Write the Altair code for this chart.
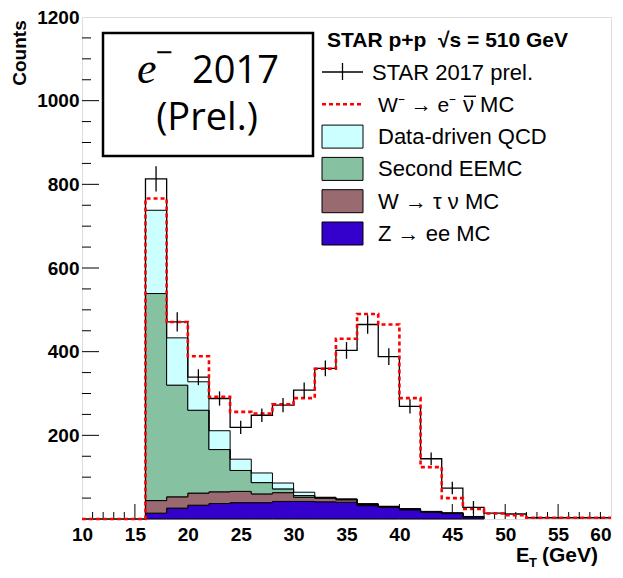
import altair as alt
import pandas as pd

# ---------------- data ----------------
bin_lo = [16, 18, 20, 22, 24, 26, 28, 30, 32, 34, 36, 38, 40, 42, 44, 46]
bin_end = 48
data_counts = [813, 471, 339, 288, 219, 248, 272, 308, 360, 403, 465, 388, 269, 144, 74, 28]
data_err = [30, 23, 19, 17, 16, 16, 17, 18, 19, 20, 22, 20, 17, 15, 15, 15]
tail_lo = [48, 50, 52]
data_tail = [14, 12, 3]
wmc_counts = [766, 471, 389, 292, 256, 252, 274, 289, 359, 431, 490, 465, 289, 124, 50, 24]
wmc_tail = [13, 9, 3]

series_names = ["Z → ee MC", "W → τ ν MC", "Second EEMC", "Data-driven QCD"]
series_colors = ["#3300cc", "#996a70", "#86c2a2", "#ccffff"]
z_ee = [14, 26, 33, 37, 39, 39, 42, 42, 41, 40, 32, 28, 22, 16, 13, 5]
w_tau = [30, 27, 29, 28, 27, 21, 21, 10, 9, 6, 3, 2, 2, 2, 1, 1]
second_eemc = [495, 267, 198, 101, 50, 27, 9, 4, 1, 1, 1, 0, 0, 0, 0, 0]
qcd = [199, 113, 68, 45, 27, 23, 14, 8, 1, 1, 0, 0, 0, 0, 0, 0]

x_labels = [10, 15, 20, 25, 30, 35, 40, 45, 50, 55, 60]
y_labels = [200, 400, 600, 800, 1000, 1200]
x_major_ticks = [15, 20, 25, 30, 35, 40, 45, 50, 55]
x_minor_ticks = [11, 12, 13, 14, 16, 17, 18, 19, 21, 22, 23, 24, 26, 27, 28, 29,
                 31, 32, 33, 34, 36, 37, 38, 39, 41, 42, 43, 44, 46, 47, 48, 49,
                 51, 52, 53, 54, 56, 57, 58, 59]
y_major_ticks = [200, 400, 600, 800, 1000]
y_minor_ticks = [50, 100, 150, 250, 300, 350, 450, 500, 550, 650, 700, 750,
                 850, 900, 950, 1050, 1100, 1150]

# ---------------- layout ----------------
W, H = 529, 502
FONT = "Liberation Sans"

xscale = alt.Scale(domain=[10, 60], nice=False, zero=False)
yscale = alt.Scale(domain=[0, 1200], nice=False, zero=True)
xaxis = alt.Axis(values=x_labels, title=None, ticks=False, domain=False, grid=False, format="d",
                 labelFont=FONT, labelFontSize=19, labelFontWeight="bold",
                 labelAlign=alt.expr("datum.value == 60 ? 'right' : 'center'"),
                 labelColor="black", labelPadding=6, labelFlush=False, labelOverlap=False)
yaxis = alt.Axis(values=y_labels, title=None, ticks=False, domain=False, grid=False, format="d",
                 labelFont=FONT, labelFontSize=19, labelFontWeight="bold",
                 labelColor="black", labelPadding=3, labelFlush=False, labelOverlap=False)

# stacked backgrounds
comp = [z_ee, w_tau, second_eemc, qcd]
rows = []
edges = bin_lo + [bin_end]
for k, (name, vals) in enumerate(zip(series_names, comp)):
    vv = vals + [vals[-1]]
    for x, v in zip(edges, vv):
        rows.append({"x": x, "v": v, "s": name, "k": k})
stack_df = pd.DataFrame(rows)

data_step = pd.DataFrame({
    "x": [10] + bin_lo + tail_lo + [60],
    "v": [0] + data_counts + data_tail + [data_tail[-1]],
})
wmc_step = pd.DataFrame({
    "x": [10] + bin_lo + tail_lo + [60],
    "v": [0] + wmc_counts + wmc_tail + [wmc_tail[-1]],
})
err_df = pd.DataFrame({
    "x": [b + 1 for b in bin_lo],
    "lo": [max(c - e, 0) for c, e in zip(data_counts, data_err)],
    "hi": [c + e for c, e in zip(data_counts, data_err)],
})

X = lambda f: alt.X(f, type="quantitative", scale=xscale, axis=xaxis)
Y = lambda f, **kw: alt.Y(f, type="quantitative", scale=yscale, axis=yaxis, **kw)

xmaj = alt.Chart(pd.DataFrame({"t": x_major_ticks})).mark_rule(color="black", strokeWidth=1).encode(
    x=X("t"), y=alt.value(H), y2=alt.value(H - 15))
xmin = alt.Chart(pd.DataFrame({"t": x_minor_ticks})).mark_rule(color="black", strokeWidth=1).encode(
    x=X("t"), y=alt.value(H), y2=alt.value(H - 7))
ymaj = alt.Chart(pd.DataFrame({"t": y_major_ticks})).mark_rule(color="black", strokeWidth=1).encode(
    y=Y("t"), x=alt.value(0), x2=alt.value(17))
ymin = alt.Chart(pd.DataFrame({"t": y_minor_ticks})).mark_rule(color="black", strokeWidth=1).encode(
    y=Y("t"), x=alt.value(0), x2=alt.value(9))

area = alt.Chart(stack_df).mark_area(interpolate="step-after", stroke="black", strokeWidth=1).encode(
    x=X("x"),
    y=Y("v", stack="zero"),
    color=alt.Color("s:N", scale=alt.Scale(domain=series_names, range=series_colors), legend=None),
    order=alt.Order("k:Q", sort="ascending"),
)
data_line = alt.Chart(data_step).mark_line(interpolate="step-after", color="black", strokeWidth=1.3).encode(
    x=X("x"), y=Y("v"))
wmc_line = alt.Chart(wmc_step).mark_line(interpolate="step-after", color="#ff0000", strokeWidth=2.6,
                                         strokeDash=[4, 3]).encode(x=X("x"), y=Y("v"))
err = alt.Chart(err_df).mark_rule(color="black", strokeWidth=1.3).encode(
    x=X("x"), y=Y("lo"), y2="hi")

one = pd.DataFrame({"a": [0]})


def txt(s, x, y, size=21, weight="normal", font=FONT, style="normal", align="left", angle=0, base="alphabetic"):
    kw = dict(text=s, fontSize=size, fontWeight=weight, font=font, fontStyle=style,
              align=align, baseline=base, color="black")
    if angle:
        kw["angle"] = angle
    return alt.Chart(one).mark_text(**kw).encode(x=alt.value(x), y=alt.value(y))


def hline(x0, x1, y, color="black", width=1.3, dash=None):
    kw = dict(color=color, strokeWidth=width)
    if dash:
        kw["strokeDash"] = dash
    return alt.Chart(one).mark_rule(**kw).encode(x=alt.value(x0), x2=alt.value(x1), y=alt.value(y))


# e- 2017 (Prel.) box
ebox = alt.Chart(one).mark_rect(fill="white", stroke="black", strokeWidth=2.5).encode(
    x=alt.value(21), x2=alt.value(231), y=alt.value(16), y2=alt.value(139))
e_txt = txt("e", 55, 66, size=44, font="Liberation Serif", style="italic")
minus_txt = txt("−", 82, 46, size=30, font="Open Sans", align="center")
yr_txt = txt("2017", 110, 66, size=38, font="Open Sans")
prel_txt = txt("(Prel.)", 125, 113, size=38, font="Open Sans", align="center")

# legend
LX0, LX1 = 240, 281
centers = [55 + 32.3 * i for i in range(6)]
legend_layers = [txt("STAR p+p\u00a0\u00a0√s = 510 GeV", 245, 30, size=21, weight="bold")]
legend_layers.append(txt("STAR 2017 prel.", 290, centers[0] + 7.5, size=22))
# W- -> e- nu-bar MC, with the bar over the nu drawn as a short line
legend_layers.append(txt("W⁻ → e⁻", 296, centers[1] + 7.5, size=21))
legend_layers.append(txt("ν MC", 381, centers[1] + 7.5, size=22))
legend_layers.append(hline(382, 394, centers[1] - 8, width=1.4))
for lab, cy in zip(["Data-driven QCD", "Second EEMC", "W → τ ν MC", "Z → ee MC"], centers[2:]):
    legend_layers.append(txt(lab, 296, cy + 7.5, size=22))
# data cross symbol
legend_layers.append(hline(LX0, LX1, centers[0]))
legend_layers.append(alt.Chart(one).mark_rule(color="black", strokeWidth=1.3).encode(
    x=alt.value((LX0 + LX1) / 2), y=alt.value(centers[0] - 9), y2=alt.value(centers[0] + 8)))
# red dashed symbol
legend_layers.append(hline(LX0, LX1, centers[1], color="#ff0000", width=2.6, dash=[4, 3]))
# filled boxes (order as in the legend: QCD, EEMC, W tau, Z)
for j, si in enumerate([3, 2, 1, 0]):
    cy = centers[2 + j]
    legend_layers.append(alt.Chart(one).mark_rect(fill=series_colors[si], stroke="black", strokeWidth=1).encode(
        x=alt.value(LX0), x2=alt.value(LX1), y=alt.value(cy - 11.5), y2=alt.value(cy + 11.5)))

# axis titles
counts_t = txt("Counts", -62, 36, size=19, weight="bold", align="center", angle=270, base="middle")
et_E = txt("E", 434, 545, size=20, weight="bold")
et_T = txt("T", 447, 550, size=13, weight="bold")
et_G = txt("(GeV)", 460, 545, size=21, weight="bold")

chart = alt.layer(
    xmin, xmaj, ymin, ymaj, area, data_line, wmc_line, err,
    ebox, e_txt, minus_txt, yr_txt, prel_txt,
    *legend_layers, counts_t, et_E, et_T, et_G,
).properties(
    width=W, height=H,
    autosize=alt.AutoSizeParams(type="none"),
    padding={"left": 74, "top": 9, "right": 4, "bottom": 50},
).configure_view(stroke="black", strokeWidth=1.5).configure(background="white")

chart.save("out.html", embed_options={"renderer": "svg", "actions": False})
